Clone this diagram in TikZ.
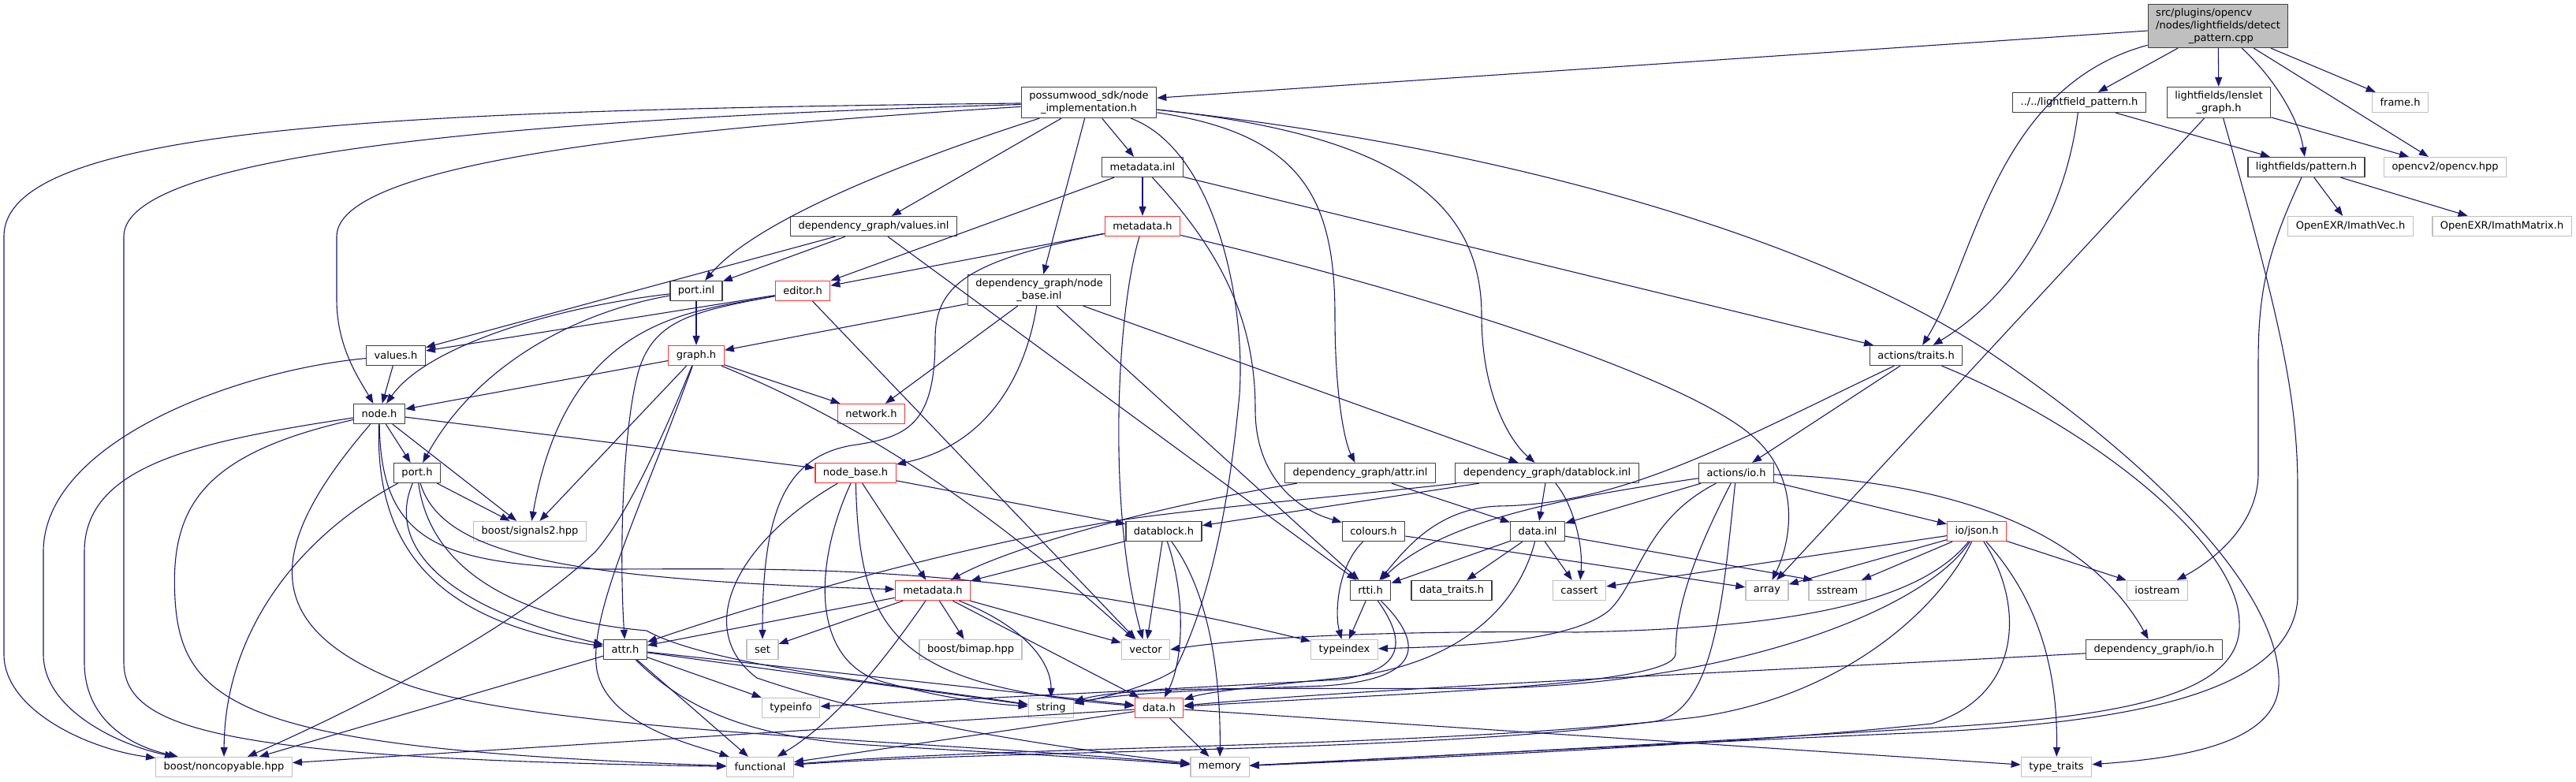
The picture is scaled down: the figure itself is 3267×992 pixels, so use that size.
\documentclass[tikz,border=0pt]{standalone}
\usepackage{fontspec}
\setmainfont{DejaVu Sans}
\usetikzlibrary{arrows.meta}
\definecolor{edgeblue}{RGB}{25,25,112}
\definecolor{boxgray}{RGB}{64,64,64}
\definecolor{boxred}{RGB}{255,51,51}
\definecolor{sysgray}{RGB}{191,191,191}

\begin{document}
\begin{tikzpicture}[x=1pt, y=-1pt, >={Triangle[length=12pt,width=9pt]}, line join=round,
    file/.style={draw=boxgray, line width=1.3pt, fill=white, inner xsep=10pt, inner ysep=5pt,
      minimum height=25pt, align=center, font=\fontsize{13pt}{16pt}\selectfont},
    trunc/.style={file, draw=boxred},
    sys/.style={file, draw=sysgray},
    edge/.style={->, draw=edgeblue, line width=1.1pt}]
    \fill[white] (0,0) rectangle (3267,992);

    % files
    \node[file, fill=sysgray, align=left] (main) at (2813,33) {src/plugins/opencv\\/nodes/lightfields/detect\\\hspace*{3.2em}\_pattern.cpp};
    \node[file] (nimpl) at (1381,130) {possumwood\_sdk/node\\\_implementation.h};
    \node[file] (lfpat) at (2637,130) {../../lightfield\_pattern.h};
    \node[file] (lenslet) at (2814,130) {lightfields/lenslet\\\_graph.h};
    \node[sys] (frameh) at (3044,130) {frame.h};
    \node[file] (metainl) at (1449,212) {metadata.inl};
    \node[file] (patternh) at (2925,212) {lightfields/pattern.h};
    \node[sys] (opencv) at (3101,212) {opencv2/opencv.hpp};
    \node[file] (valinl) at (1108,287) {dependency\_graph/values.inl};
    \node[trunc] (metah) at (1449,287) {metadata.h};
    \node[sys] (imvec) at (2981,287) {OpenEXR/ImathVec.h};
    \node[sys] (immat) at (3173,287) {OpenEXR/ImathMatrix.h};
    \node[file] (portinl) at (883,369) {port.inl};
    \node[trunc] (editor) at (1018,369) {editor.h};
    \node[file] (nbinl) at (1318,368) {dependency\_graph/node\\\_base.inl};
    \node[file] (valuesh) at (502,451) {values.h};
    \node[trunc] (graphh) at (883,451) {graph.h};
    \node[file] (traits) at (2430,451) {actions/traits.h};
    \node[file] (nodeh) at (481,525) {node.h};
    \node[trunc] (network) at (1105,525) {network.h};
    \node[file] (porth) at (529,600) {port.h};
    \node[trunc] (nodebase) at (1085,600) {node\_base.h};
    \node[file] (attrinl) at (1725,600) {dependency\_graph/attr.inl};
    \node[file] (dbinl) at (1962,600) {dependency\_graph/datablock.inl};
    \node[file] (actio) at (2202,600) {actions/io.h};
    \node[sys] (signals) at (672,674) {boost/signals2.hpp};
    \node[file] (datablock) at (1476,674) {datablock.h};
    \node[file] (colours) at (1742,674) {colours.h};
    \node[file] (datainl) at (1950,674) {data.inl};
    \node[trunc] (json) at (2507,674) {io/json.h};
    \node[trunc] (metadata) at (1183,749) {metadata.h};
    \node[file] (rtti) at (1738,749) {rtti.h};
    \node[file] (dtraits) at (1841,749) {data\_traits.h};
    \node[sys] (cassert) at (2003,749) {cassert};
    \node[sys] (array) at (2241,749) {array};
    \node[sys] (sstream) at (2330,749) {sstream};
    \node[sys] (iostream) at (2736,749) {iostream};
    \node[file] (attrh) at (793,824) {attr.h};
    \node[sys] (stdset) at (967,824) {set};
    \node[sys] (bimap) at (1231,824) {boost/bimap.hpp};
    \node[sys] (vector) at (1453,824) {vector};
    \node[sys] (typeindex) at (1705,824) {typeindex};
    \node[file] (dgio) at (2732,824) {dependency\_graph/io.h};
    \node[sys] (typeinfo) at (1003,898) {typeinfo};
    \node[sys] (stdstring) at (1333,898) {string};
    \node[trunc] (datah) at (1470,898) {data.h};
    \node[sys] (noncopy) at (284,973) {boost/noncopyable.hpp};
    \node[sys] (functional) at (964,973) {functional};
    \node[sys] (memory) at (1547,973) {memory};
    \node[sys] (typetraits) at (2608,973) {type\_traits};

    % detect_pattern.cpp
    \draw[edge] (main) -- (nimpl);
    \draw[edge] (main) .. controls (2530,110) and (2505,330) .. (traits);
    \draw[edge] (main) -- (lfpat);
    \draw[edge] (main) -- (lenslet);
    \draw[edge] (main) .. controls (2885,100) and (2915,150) .. (patternh);
    \draw[edge] (main) -- (opencv);
    \draw[edge] (main) -- (frameh);

    % lightfield headers
    \draw[edge] (lfpat) .. controls (2615,300) and (2530,390) .. (traits);
    \draw[edge] (lfpat) -- (patternh);
    \draw[edge] (lenslet) -- (opencv);
    \draw[edge] (lenslet) -- (array);
    \draw[edge] (lenslet) .. controls (2890,400) and (2914,500) .. (2914,620) -- (2914,760)
        .. controls (2905,880) and (2700,918) .. (2420,930) .. controls (2100,944) and (1800,960) .. (memory);
    \draw[edge] (patternh) -- (imvec);
    \draw[edge] (patternh) -- (immat);
    \draw[edge] (patternh) .. controls (2875,320) and (2864,370) .. (2864,460) -- (2864,600)
        .. controls (2864,670) and (2800,715) .. (iostream);

    % node_implementation.h
    \draw[edge] (nimpl) .. controls (900,160) and (427,200) .. (427,300) -- (427,380)
        .. controls (427,440) and (455,480) .. (nodeh);
    \draw[edge] (nimpl) .. controls (500,140) and (5,160) .. (5,300) -- (5,830)
        .. controls (5,900) and (110,950) .. (noncopy);
    \draw[edge] (nimpl) .. controls (700,150) and (157,190) .. (157,300) -- (157,840)
        .. controls (157,930) and (300,962) .. (functional);
    \draw[edge] (nimpl) .. controls (1100,220) and (950,290) .. (portinl);
    \draw[edge] (nimpl) -- (valinl);
    \draw[edge] (nimpl) -- (nbinl);
    \draw[edge] (nimpl) -- (metainl);
    \draw[edge] (nimpl) .. controls (1650,170) and (1693,250) .. (1693,400)
        .. controls (1693,500) and (1705,560) .. (attrinl);
    \draw[edge] (nimpl) .. controls (1760,170) and (1879,250) .. (1879,400)
        .. controls (1879,500) and (1915,560) .. (dbinl);
    \draw[edge] (nimpl) .. controls (1540,190) and (1580,380) .. (1572,500)
        .. controls (1555,680) and (1525,780) .. (1490,850) .. controls (1460,870) and (1400,885) .. (stdstring);
    \draw[edge] (nimpl) .. controls (1900,185) and (2300,300) .. (2520,445)
        .. controls (2750,600) and (2895,760) .. (2890,870) .. controls (2885,945) and (2760,962) .. (typetraits);

    % metadata.inl / metadata.h
    \draw[edge] (metainl) -- (metah);
    \draw[edge] (metainl) -- (editor);
    \draw[edge] (metainl) .. controls (1560,330) and (1592,420) .. (1592,520)
        .. controls (1592,600) and (1640,645) .. (colours);
    \draw[edge] (metainl) -- (traits);
    \draw[edge] (metah) -- (editor);
    \draw[edge] (metah) .. controls (1230,330) and (1186,360) .. (1186,430)
        .. controls (1186,540) and (1150,555) .. (1080,565) .. controls (995,580) and (967,650) .. (stdset);
    \draw[edge] (metah) .. controls (1415,400) and (1405,650) .. (vector);
    \draw[edge] (metah) .. controls (1800,370) and (2150,480) .. (2230,560)
        .. controls (2285,615) and (2270,690) .. (array);

    % values.inl / port.inl / editor.h
    \draw[edge] (valinl) -- (valuesh);
    \draw[edge] (valinl) -- (portinl);
    \draw[edge] (valinl) -- (rtti);
    \draw[edge] (portinl) .. controls (700,390) and (540,440) .. (nodeh);
    \draw[edge] (portinl) .. controls (720,398) and (600,470) .. (porth);
    \draw[edge] (portinl) -- (graphh);
    \draw[edge] (editor) -- (valuesh);
    \draw[edge] (editor) .. controls (880,395) and (720,400) .. (signals);
    \draw[edge] (editor) .. controls (880,395) and (830,405) .. (810,470)
        .. controls (790,540) and (785,700) .. (attrh);
    \draw[edge] (editor) -- (vector);

    % node_base.inl
    \draw[edge] (nbinl) -- (graphh);
    \draw[edge] (nbinl) -- (network);
    \draw[edge] (nbinl) .. controls (1300,480) and (1250,565) .. (nodebase);
    \draw[edge] (nbinl) -- (rtti);
    \draw[edge] (nbinl) -- (dbinl);

    % values.h / graph.h
    \draw[edge] (valuesh) -- (nodeh);
    \draw[edge] (valuesh) .. controls (300,470) and (55,560) .. (55,700) -- (55,830)
        .. controls (55,900) and (150,945) .. (noncopy);
    \draw[edge] (graphh) -- (nodeh);
    \draw[edge] (graphh) -- (network);
    \draw[edge] (graphh) -- (signals);
    \draw[edge] (graphh) .. controls (830,580) and (790,660) .. (755,700)
        .. controls (650,800) and (450,900) .. (noncopy);
    \draw[edge] (graphh) .. controls (815,640) and (745,780) .. (757,850)
        .. controls (770,920) and (880,945) .. (functional);
    \draw[edge] (graphh) .. controls (1100,540) and (1260,650) .. (vector);

    % actions/traits.h
    \draw[edge] (traits) -- (actio);
    \draw[edge] (traits) .. controls (2200,560) and (2060,640) .. (1900,642)
        .. controls (1820,645) and (1780,700) .. (rtti);
    \draw[edge] (traits) .. controls (2650,540) and (2840,690) .. (2840,790)
        .. controls (2845,890) and (2660,912) .. (2420,925) .. controls (2100,945) and (1800,960) .. (memory);

    % node.h / port.h
    \draw[edge] (nodeh) -- (porth);
    \draw[edge] (nodeh) -- (signals);
    \draw[edge] (nodeh) -- (nodebase);
    \draw[edge] (nodeh) .. controls (250,560) and (107,590) .. (107,700) -- (107,840)
        .. controls (107,910) and (160,945) .. (noncopy);
    \draw[edge] (nodeh) .. controls (260,575) and (215,640) .. (222,760)
        .. controls (230,900) and (320,950) .. (functional);
    \draw[edge] (nodeh) .. controls (330,700) and (330,800) .. (520,870)
        .. controls (700,930) and (1200,940) .. (memory);
    \draw[edge] (nodeh) .. controls (475,700) and (560,790) .. (attrh);
    \draw[edge] (nodeh) .. controls (483,690) and (560,715) .. (760,722)
        .. controls (1000,722) and (1250,712) .. (typeindex);
    \draw[edge] (porth) .. controls (380,680) and (285,800) .. (noncopy);
    \draw[edge] (porth) .. controls (490,690) and (560,770) .. (attrh);
    \draw[edge] (porth) -- (signals);
    \draw[edge] (porth) .. controls (545,720) and (650,785) .. (820,800)
        .. controls (900,845) and (1150,870) .. (stdstring);
    \draw[edge] (porth) .. controls (560,700) and (700,735) .. (metadata);

    % node_base.h
    \draw[edge] (nodebase) .. controls (930,690) and (880,800) .. (960,860)
        .. controls (1150,925) and (1400,955) .. (memory);
    \draw[edge] (nodebase) .. controls (1030,720) and (1030,840) .. (1120,865)
        .. controls (1200,887) and (1260,893) .. (stdstring);
    \draw[edge] (nodebase) .. controls (1090,800) and (1130,870) .. (datah);
    \draw[edge] (nodebase) -- (metadata);
    \draw[edge] (nodebase) -- (datablock);

    % attr.inl / datablock.inl
    \draw[edge] (attrinl) .. controls (1420,650) and (1260,705) .. (metadata);
    \draw[edge] (attrinl) -- (datainl);
    \draw[edge] (dbinl) -- (datablock);
    \draw[edge] (dbinl) .. controls (1700,630) and (1520,645) .. (1420,660)
        .. controls (1200,695) and (950,770) .. (attrh);
    \draw[edge] (dbinl) -- (datainl);
    \draw[edge] (dbinl) .. controls (1995,640) and (2008,690) .. (cassert);

    % actions/io.h
    \draw[edge] (actio) .. controls (1990,630) and (1830,660) .. (rtti);
    \draw[edge] (actio) -- (datainl);
    \draw[edge] (actio) .. controls (2085,660) and (2078,740) .. (2040,775)
        .. controls (1990,815) and (1850,820) .. (typeindex);
    \draw[edge] (actio) .. controls (2140,720) and (2125,780) .. (2125,830)
        .. controls (2120,870) and (1800,878) .. (datah);
    \draw[edge] (actio) .. controls (2185,760) and (2175,900) .. (2100,915)
        .. controls (1800,955) and (1300,950) .. (functional);
    \draw[edge] (actio) -- (json);
    \draw[edge] (actio) .. controls (2450,610) and (2640,660) .. (dgio);

    % io/json.h
    \draw[edge] (json) -- (cassert);
    \draw[edge] (json) -- (array);
    \draw[edge] (json) -- (sstream);
    \draw[edge] (json) .. controls (2430,770) and (2250,797) .. (2000,802)
        .. controls (1800,800) and (1600,806) .. (vector.east);
    \draw[edge] (json) .. controls (2440,775) and (2200,865) .. (1900,873)
        .. controls (1650,875) and (1440,868) .. (stdstring);
    \draw[edge] (json) .. controls (2455,780) and (2330,885) .. (2150,910)
        .. controls (1800,950) and (1300,945) .. (functional);
    \draw[edge] (json) .. controls (2565,760) and (2570,880) .. (2450,918)
        .. controls (2200,945) and (1800,962) .. (memory);
    \draw[edge] (json) .. controls (2585,760) and (2610,850) .. (typetraits);
    \draw[edge] (json) -- (iostream);

    % datablock.h / colours.h / data.inl
    \draw[edge] (datablock) -- (metadata);
    \draw[edge] (datablock) -- (vector);
    \draw[edge] (datablock) .. controls (1505,760) and (1500,840) .. (datah);
    \draw[edge] (datablock) .. controls (1540,760) and (1548,880) .. (memory);
    \draw[edge] (colours) .. controls (1695,720) and (1693,780) .. (typeindex);
    \draw[edge] (colours) -- (array);
    \draw[edge] (datainl) -- (rtti);
    \draw[edge] (datainl) -- (dtraits);
    \draw[edge] (datainl) .. controls (1925,770) and (1850,845) .. (1700,860)
        .. controls (1600,870) and (1530,878) .. (datah);
    \draw[edge] (datainl) -- (cassert);
    \draw[edge] (datainl) -- ([xshift=6pt]sstream.north west);

    % metadata.h
    \draw[edge] (metadata) -- (attrh);
    \draw[edge] (metadata) -- (stdset);
    \draw[edge] (metadata) .. controls (1120,840) and (1060,915) .. (functional);
    \draw[edge] (metadata) -- (bimap);
    \draw[edge] (metadata) -- (vector);
    \draw[edge] (metadata) .. controls (1300,795) and (1333,840) .. (stdstring);
    \draw[edge] (metadata) -- (datah);

    % rtti.h / attr.h
    \draw[edge] (rtti) -- (typeindex);
    \draw[edge] (rtti) .. controls (1785,815) and (1780,850) .. (1700,862)
        .. controls (1450,876) and (1200,888) .. (typeinfo);
    \draw[edge] (rtti) .. controls (1810,820) and (1800,862) .. (1680,870)
        .. controls (1500,876) and (1420,880) .. (stdstring);
    \draw[edge] (attrh) -- (noncopy);
    \draw[edge] (attrh) -- (stdstring);
    \draw[edge] (attrh) -- (datah);
    \draw[edge] (attrh) -- (typeinfo);
    \draw[edge] (attrh) -- (functional);
    \draw[edge] (attrh) .. controls (870,900) and (950,935) .. (1100,945)
        .. controls (1300,957) and (1420,963) .. (memory);

    % dependency_graph/io.h / data.h
    \draw[edge] (dgio) .. controls (2300,848) and (1750,872) .. (datah);
    \draw[edge] (datah) -- (functional);
    \draw[edge] (datah) -- (memory);
    \draw[edge] (datah) -- (typetraits);
    \draw[edge] (datah) -- (noncopy);
\end{tikzpicture}
\end{document}
